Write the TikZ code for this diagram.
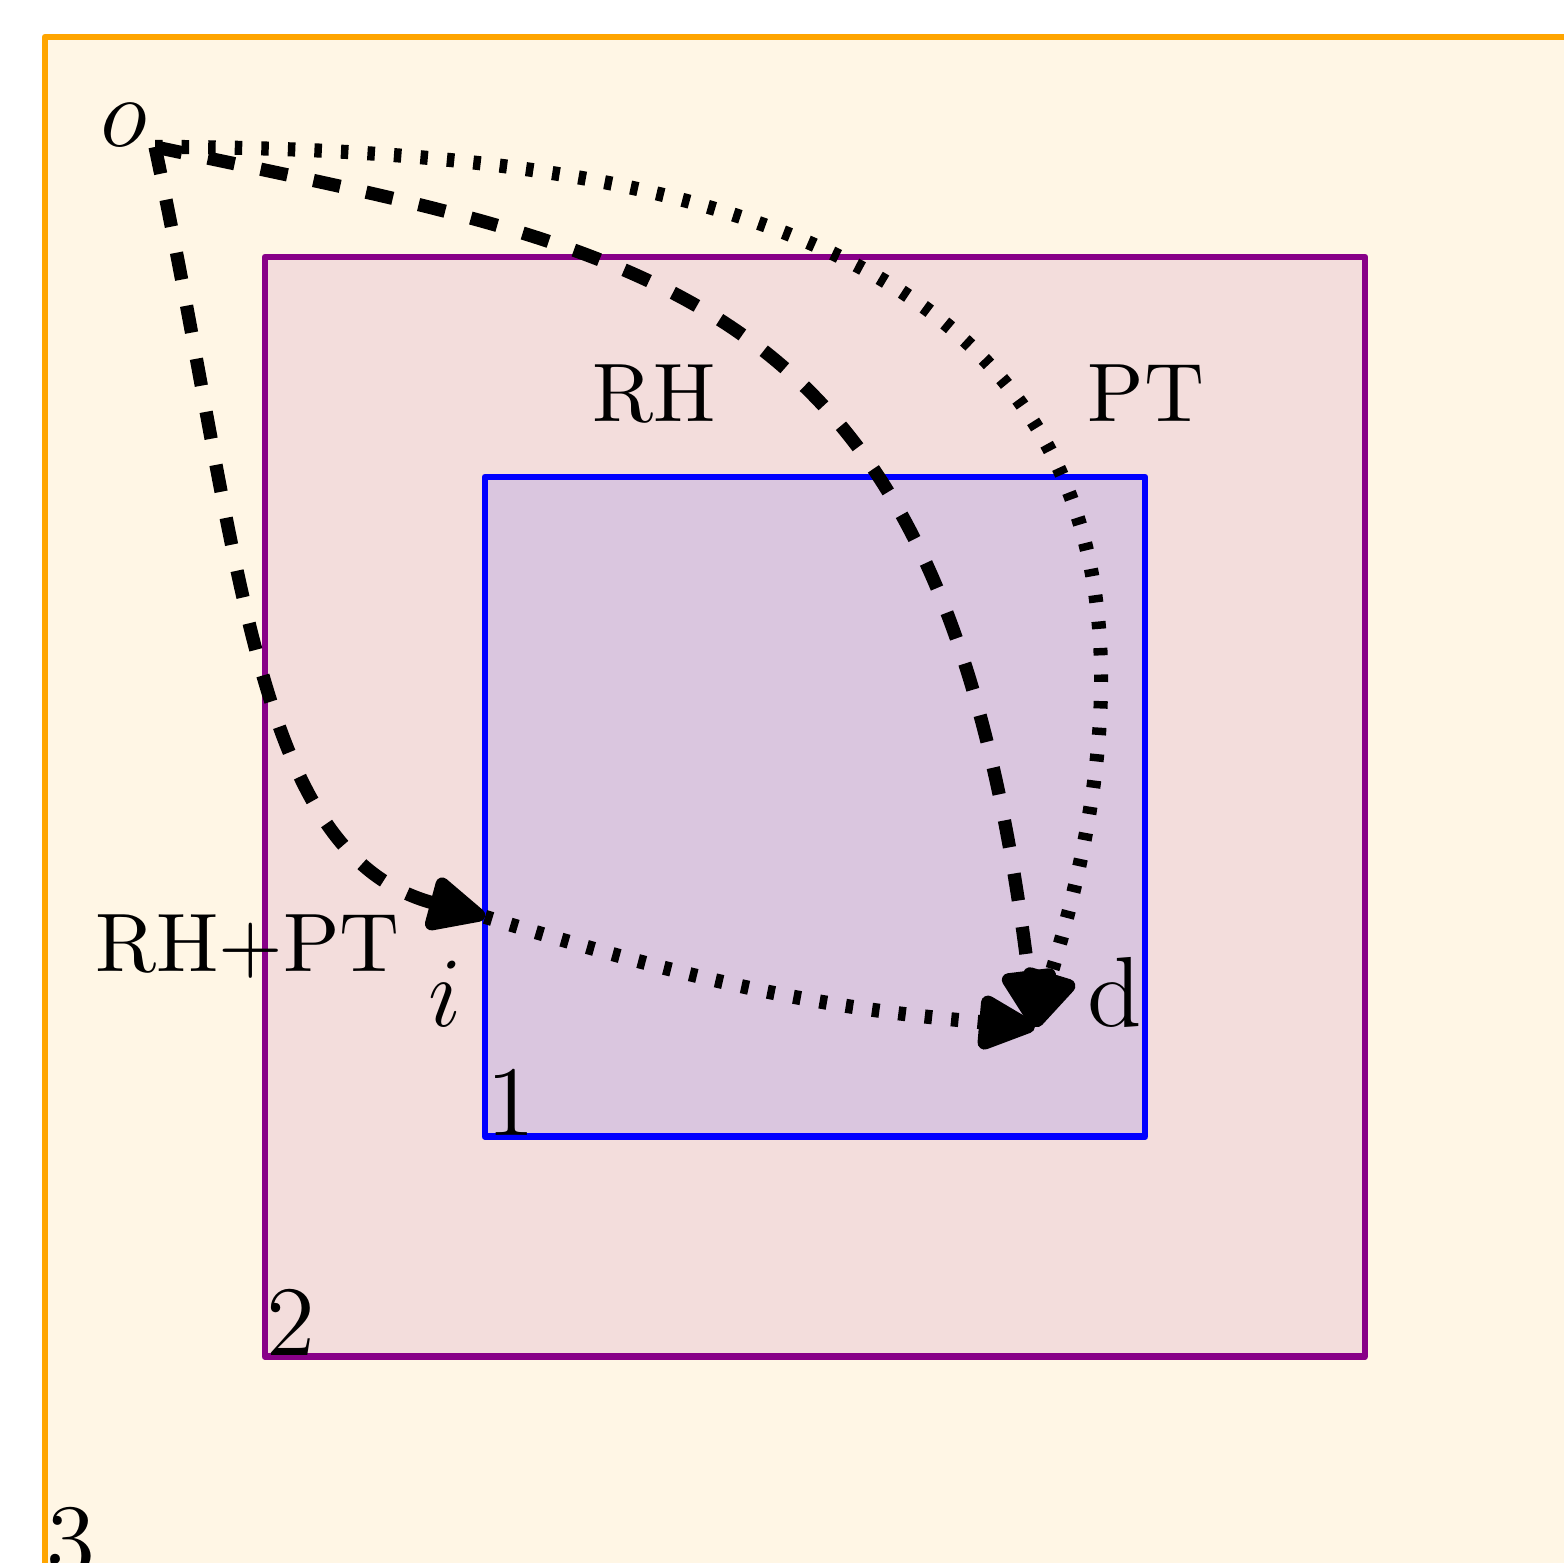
\documentclass[tikz,border=0pt]{standalone}
\usepackage{tikz}
\usetikzlibrary{arrows.meta}
\definecolor{orange500}{HTML}{FFA500}
\definecolor{purple700}{HTML}{880088}
\definecolor{blue500}  {HTML}{0000FF}
\tikzset{
  zone/.style ={line width=0.8pt, line join=round, fill opacity=0.1},
  rh/.style   ={line width=1.6pt, dash pattern=on 3.3pt off 3.2pt,
                -{Triangle[length=8pt, width=7pt, round]}},
  pt/.style   ={line width=1.7pt, dash pattern=on 0.9pt off 2.3pt,
                -{Triangle[length=8pt, width=7pt, round]}},
  lab/.style  ={font=\large, anchor=base, inner sep=0pt},
  tag/.style  ={anchor=base, inner sep=0pt},
  num/.style  ={font=\large, anchor=south west, inner sep=0pt}
}
\begin{document}
\begin{tikzpicture}[x=0.9314cm, y=0.9314cm]
\clip (-3.705,-3.436) rectangle (3.405,3.668);
\coordinate (o) at (-3,3);
\coordinate (i) at (-1.5,-0.5);
\coordinate (d) at (1,-1);

% nested regions 3, 2, 1
\draw[zone, draw=orange500, fill=orange500] (-3.5,-3.5) rectangle (3.5,3.5);
\draw[zone, draw=purple700, fill=purple700] (-2.5,-2.5) rectangle (2.5,2.5);
\draw[zone, draw=blue500, fill=blue500]     (-1.5,-1.5) rectangle (1.5,1.5);
\node[num] (n3) at (-3.5,-3.5) {3};
\node[num] (n2) at (-2.5,-2.5) {2};
\node[num] (n1) at (-1.5,-1.5) {1};
\node[tag] (both) at (-2.58,-0.75) {RH+PT};

% routes
\draw[rh] (o) .. controls +(-78:1.9) and +(165:1.1) .. (i);
\draw[rh] (o) .. controls +(-12:2.4) and +(97:3.4) .. (d);
\draw[pt] (o) .. controls +(0:2.9) and +(73:3.5) .. (d);
\draw[pt] (i) to[out=-17, in=175] (d);

\node[lab] (olab) at (-3.14,3) {$o$};
\node[lab] (ilab) at (-1.68,-1) {$i$};
\node[lab] (dlab) at (1.36,-1) {d};
\node[tag] (rh) at (-0.73,1.75) {RH};
\node[tag] (pt) at (1.505,1.75) {PT};
\end{tikzpicture}
\end{document}
